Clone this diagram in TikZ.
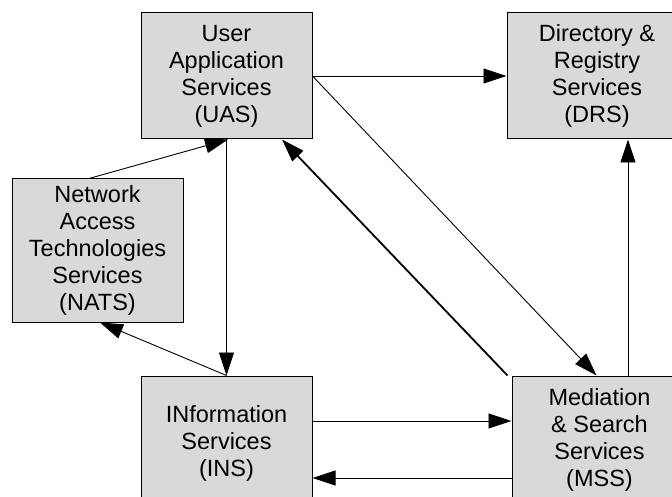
\documentclass[tikz,border=0pt]{standalone}
\usepackage{fontspec}
\setmainfont{Liberation Sans}
\usetikzlibrary{arrows.meta,positioning,calc}
\definecolor{boxgray}{HTML}{D9D9D9}
\tikzset{
  svc/.style={draw=black, line width=1pt, fill=boxgray, align=center, inner sep=0pt,
    minimum height=126pt, font=\fontsize{23.5}{27}\selectfont},
  conn/.style={line width=0.9pt, -{Triangle[length=23pt,width=15pt]}},
  thickconn/.style={line width=1.8pt, -{Triangle[length=23pt,width=15pt]}}
}
\begin{document}
\begin{tikzpicture}[x=1pt,y=-1pt]
\useasboundingbox (0,0) rectangle (672,497);
\clip (0,0) rectangle (672,497);
\node[svc, minimum width=171pt] (UAS) at (226.5,76) {User\\Application\\Services\\(UAS)};
\node[svc, minimum width=180pt] (DRS) at (597,76) {Directory \&\\Registry\\Services\\(DRS)};
\node[svc, minimum width=171pt, minimum height=143pt] (NATS) at (97.5,250.5) {Network\\Access\\Technologies\\Services\\(NATS)};
\node[svc, minimum width=171pt, minimum height=134pt] (INS) at (226.5,443) {INformation\\Services\\(INS)};
\node[svc, minimum width=175pt, minimum height=128pt] (MSS) at (599.5,440) {Mediation\\\& Search\\Services\\(MSS)};

\draw[conn] (UAS.east) -- (DRS.west);
\draw[conn] (UAS.east) -- ([xshift=-3pt]MSS.north);
\draw[thickconn] ([xshift=-4pt]MSS.north west) -- ([xshift=55.5pt]UAS.south);
\draw[conn] ([xshift=31pt]DRS.south |- MSS.north) -- ([xshift=31pt]DRS.south);
\draw[conn] ([xshift=-8.5pt]NATS.north) -- ([xshift=1.5pt]UAS.south);
\draw[conn] (UAS.south) -- (INS.north);
\draw[conn] (INS.north) -- ([xshift=2.5pt]NATS.south);
\draw[conn] ([yshift=22pt]INS.east) -- ([yshift=22pt]INS.east -| MSS.west);
\draw[conn] ([yshift=-35pt]INS.east -| MSS.west) -- ([yshift=-35pt]INS.east);
\end{tikzpicture}
\end{document}
